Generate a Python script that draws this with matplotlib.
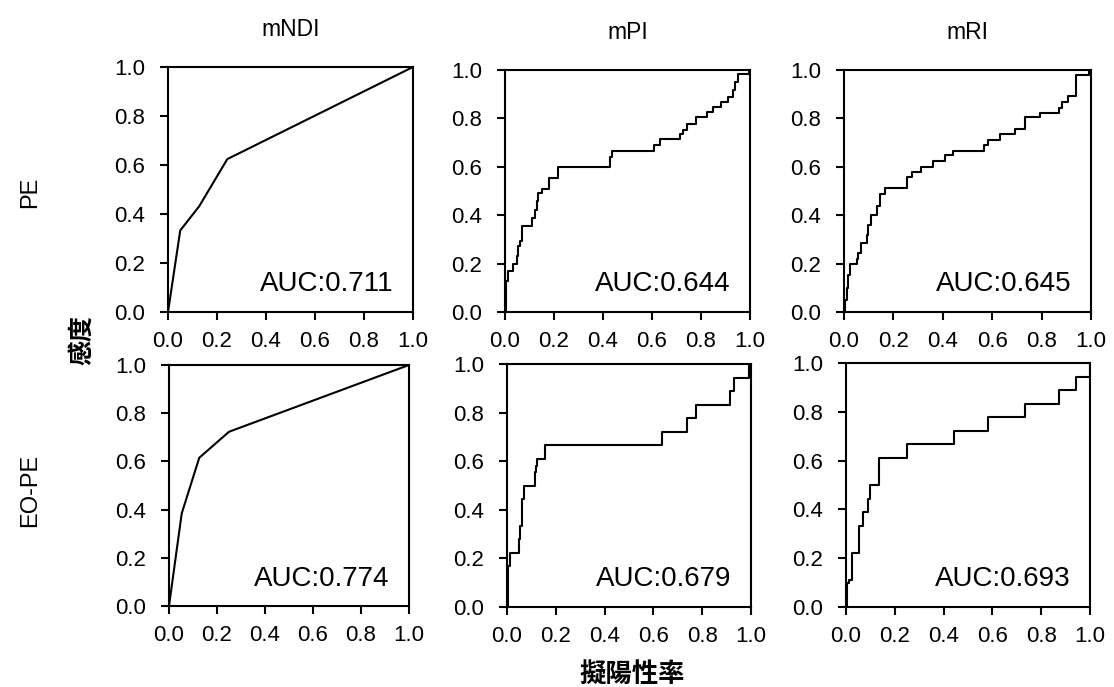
import matplotlib
matplotlib.use("Agg")
import matplotlib.pyplot as plt

plt.rcParams['font.family'] = ['Liberation Sans', 'Noto Sans CJK JP', 'DejaVu Sans']

col_titles = ["mNDI", "mPI", "mRI"]
row_labels = ["PE", "EO-PE"]
tick_vals = [0.0, 0.2, 0.4, 0.6, 0.8, 1.0]
tick_labels = ["0.0", "0.2", "0.4", "0.6", "0.8", "1.0"]

# mNDI, PE (polyline)
ndi_pe_fpr = [0.0, 0.05, 0.127, 0.242, 1.0]
ndi_pe_tpr = [0.0, 0.333, 0.431, 0.624, 1.0]
ndi_pe_auc = "AUC:0.711"

# mNDI, EO-PE (polyline)
ndi_eo_fpr = [0.0, 0.053, 0.126, 0.25, 1.0]
ndi_eo_tpr = [0.0, 0.384, 0.615, 0.723, 1.0]
ndi_eo_auc = "AUC:0.774"

# mPI, PE (step ROC: tpr reached at each fpr)
pi_pe_fpr = [0.0, 0.003, 0.014, 0.034, 0.048, 0.054, 0.061, 0.068, 0.112, 0.122, 0.129,
             0.136, 0.150, 0.180, 0.218, 0.429, 0.438, 0.610, 0.633, 0.714, 0.728, 0.741,
             0.780, 0.826, 0.850, 0.880, 0.912, 0.932, 0.939, 0.952, 0.996]
pi_pe_tpr = [0.0, 0.127, 0.171, 0.198, 0.230, 0.271, 0.292, 0.354, 0.390, 0.422, 0.457,
             0.491, 0.509, 0.553, 0.601, 0.640, 0.667, 0.690, 0.714, 0.735, 0.752, 0.777,
             0.805, 0.825, 0.846, 0.869, 0.890, 0.917, 0.952, 0.982, 1.0]
pi_pe_auc = "AUC:0.644"

# mRI, PE
ri_pe_fpr = [0.0, 0.004, 0.011, 0.015, 0.024, 0.051, 0.058, 0.069, 0.092, 0.099, 0.108,
             0.135, 0.146, 0.166, 0.257, 0.274, 0.312, 0.362, 0.407, 0.443, 0.568, 0.582,
             0.632, 0.693, 0.734, 0.792, 0.869, 0.882, 0.905, 0.939, 0.993]
ri_pe_tpr = [0.0, 0.05, 0.099, 0.154, 0.198, 0.22, 0.243, 0.287, 0.319, 0.358, 0.399,
             0.44, 0.487, 0.512, 0.556, 0.580, 0.600, 0.624, 0.649, 0.667, 0.69, 0.711,
             0.736, 0.757, 0.805, 0.824, 0.845, 0.869, 0.894, 0.979, 1.0]
ri_pe_auc = "AUC:0.645"

# mPI, EO-PE
pi_eo_fpr = [0.0, 0.003, 0.011, 0.048, 0.055, 0.061, 0.071, 0.113, 0.120, 0.123, 0.157,
             0.634, 0.737, 0.775, 0.914, 0.932, 0.992]
pi_eo_tpr = [0.0, 0.167, 0.222, 0.278, 0.333, 0.444, 0.500, 0.556, 0.580, 0.611, 0.667,
             0.722, 0.778, 0.833, 0.889, 0.944, 1.0]
pi_eo_auc = "AUC:0.679"

# mRI, EO-PE
ri_eo_fpr = [0.0, 0.004, 0.011, 0.025, 0.052, 0.070, 0.089, 0.100, 0.134, 0.252, 0.443,
             0.581, 0.734, 0.873, 0.943, 1.0]
ri_eo_tpr = [0.0, 0.100, 0.111, 0.222, 0.333, 0.389, 0.444, 0.500, 0.611, 0.667, 0.722,
             0.778, 0.833, 0.889, 0.944, 1.0]
ri_eo_auc = "AUC:0.693"

W, H = 1114, 687
fig = plt.figure(figsize=(W / 100, H / 100), dpi=100)

def box(x0, y0, x1, y1):
    return [x0 / W, 1 - y1 / H, (x1 - x0) / W, (y1 - y0) / H]

boxes = [
    [box(168, 67, 413, 312), box(505, 70, 750, 312), box(844, 70, 1091, 312)],
    [box(169, 365, 409, 606), box(507, 364, 751, 607), box(846, 363, 1090, 607)],
]

panels = [
    [(ndi_pe_fpr, ndi_pe_tpr, ndi_pe_auc, False),
     (pi_pe_fpr, pi_pe_tpr, pi_pe_auc, True),
     (ri_pe_fpr, ri_pe_tpr, ri_pe_auc, True)],
    [(ndi_eo_fpr, ndi_eo_tpr, ndi_eo_auc, False),
     (pi_eo_fpr, pi_eo_tpr, pi_eo_auc, True),
     (ri_eo_fpr, ri_eo_tpr, ri_eo_auc, True)],
]

for r in range(2):
    for c in range(3):
        ax = fig.add_axes(boxes[r][c])
        fpr, tpr, auc, step = panels[r][c]
        if step:
            ax.plot(fpr, tpr, color='black', lw=1.5, drawstyle='steps-post')
        else:
            ax.plot(fpr, tpr, color='black', lw=1.5)
        ax.set_xlim(0, 1)
        ax.set_ylim(0, 1)
        ax.set_xticks(tick_vals)
        ax.set_xticklabels(tick_labels)
        ax.set_yticks(tick_vals)
        ax.set_yticklabels(tick_labels)
        ax.tick_params(direction='out', length=6, width=1.5, labelsize=16,
                       colors='black')
        ax.tick_params(axis='x', pad=8)
        ax.tick_params(axis='y', pad=10.5)
        for s in ax.spines.values():
            s.set_linewidth(1.5)
            s.set_color('black')
        ax.text(0.92, 0.06, auc, transform=ax.transAxes, ha='right', va='bottom',
                fontsize=20)
        if r == 0:
            ax.set_title(col_titles[c], fontsize=16.5, pad=22)

fig.text(30 / W, 1 - 192 / H, row_labels[0], rotation=90, ha='center', va='center',
         fontsize=17)
fig.text(30 / W, 1 - 490 / H, row_labels[1], rotation=90, ha='center', va='center',
         fontsize=17)
fig.text(82 / W, 1 - 340 / H, "感度", rotation=90, ha='center', va='center',
         fontsize=18, fontweight='bold', family=['Noto Sans CJK JP', 'DejaVu Sans'])
fig.text(632 / W, 1 - 674 / H, "擬陽性率", ha='center', va='center',
         fontsize=19, fontweight='bold', family=['Noto Sans CJK JP', 'DejaVu Sans'])

fig.savefig("out.png", dpi=100)
